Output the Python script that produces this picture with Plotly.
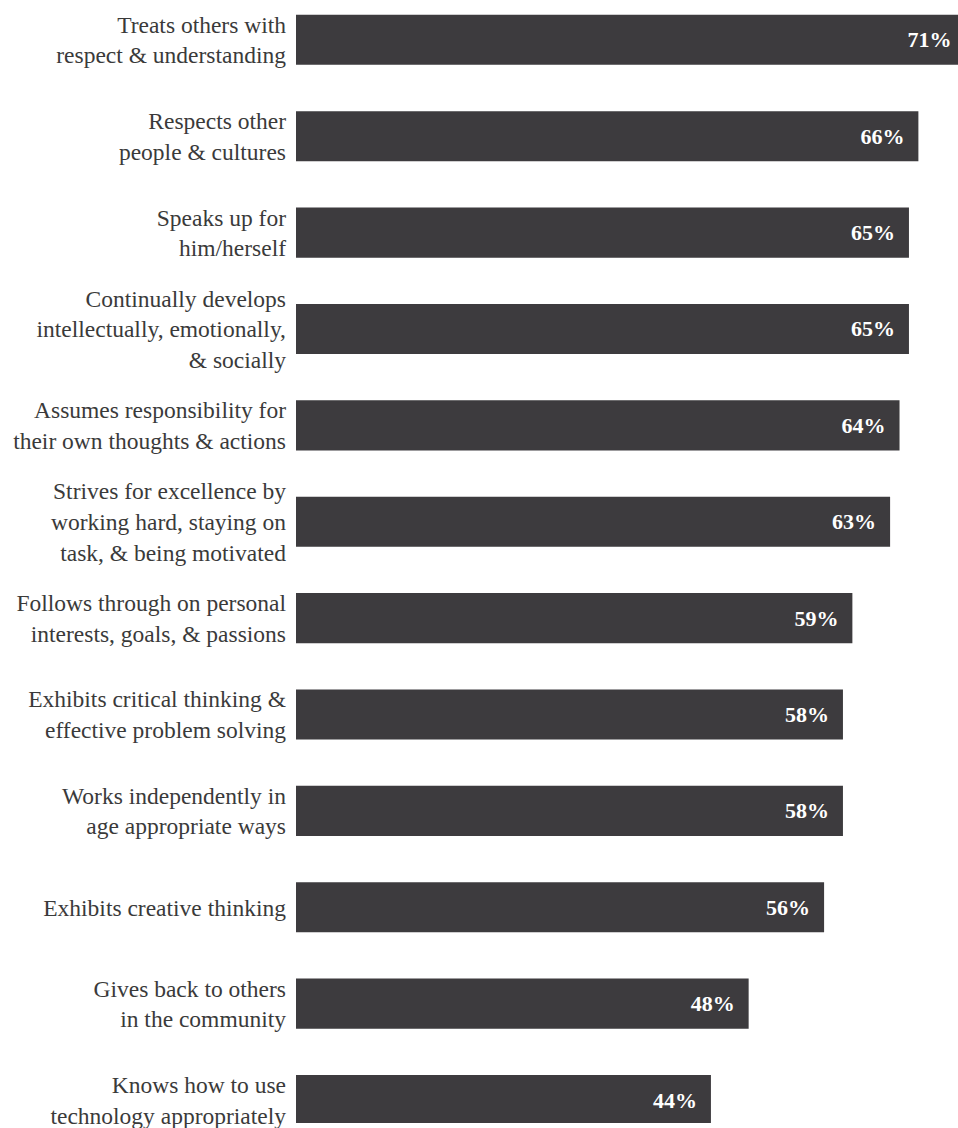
import plotly.graph_objects as go

categories = [
    "Treats others with<br>respect & understanding",
    "Respects other<br>people & cultures",
    "Speaks up for<br>him/herself",
    "Continually develops<br>intellectually, emotionally,<br>& socially",
    "Assumes responsibility for<br>their own thoughts & actions",
    "Strives for excellence by<br>working hard, staying on<br>task, & being motivated",
    "Follows through on personal<br>interests, goals, & passions",
    "Exhibits critical thinking &<br>effective problem solving",
    "Works independently in<br>age appropriate ways",
    "Exhibits creative thinking",
    "Gives back to others<br>in the community",
    "Knows how to use<br>technology appropriately",
]
values = [71, 66, 65, 65, 64, 63, 59, 58, 58, 56, 48, 44]
labels = [f"{v}%\u00a0\u00a0" for v in values]

SERIF = "Liberation Serif, Times New Roman, Times, serif"

fig = go.Figure(
    go.Bar(
        x=values,
        y=categories,
        orientation="h",
        text=labels,
        textposition="inside",
        insidetextanchor="end",
        textangle=0,
        constraintext="none",
        cliponaxis=True,
        marker=dict(color="#3d3b3e", line=dict(width=0)),
        textfont=dict(family=SERIF, size=22, color="white", weight="bold"),
        hoverinfo="skip",
    )
)

fig.update_layout(
    width=958,
    height=1128,
    margin=dict(l=296, r=0, t=0, b=0),
    paper_bgcolor="white",
    plot_bgcolor="white",
    bargap=0.48,
    showlegend=False,
    font=dict(family=SERIF, size=23.5, color="#3a3a3a"),
    xaxis=dict(range=[0, 70.2], visible=False, fixedrange=True),
    yaxis=dict(
        type="category",
        range=[11.238, -0.413],
        showgrid=False,
        zeroline=False,
        showline=False,
        ticks="",
        ticklabelstandoff=9,
        tickfont=dict(family=SERIF, size=23.5, color="#3a3a3a"),
        fixedrange=True,
    ),
)

fig.write_html("out.html")
